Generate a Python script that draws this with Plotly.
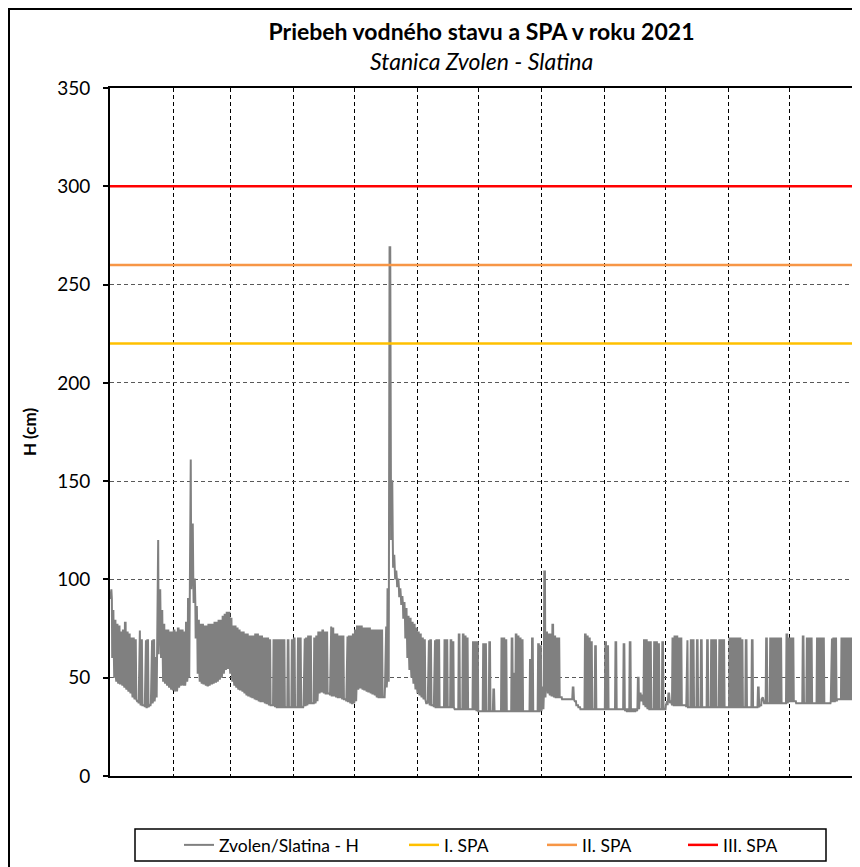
import pandas as pd
import plotly.graph_objects as go

# daily minimum / maximum water level H (cm), station Zvolen - Slatina, 2021
daily_low = [
    # Jan
    90, 60, 50, 48, 47, 47, 46, 45, 44, 43, 42, 40, 39, 38, 37, 36, 36, 35, 35, 36, 37, 38, 40, 62, 75, 60, 48, 47, 46, 45, 44,
    # Feb
    44, 43, 45, 46, 47, 46, 48, 50, 95, 100, 88, 70, 52, 48, 47, 47, 46, 46, 47, 47, 48, 48, 49, 50, 52, 54, 55, 55,
    # Mar
    52, 48, 46, 45, 44, 44, 43, 42, 41, 41, 40, 40, 39, 39, 38, 38, 38, 37, 37, 36, 36, 36, 35, 35, 35, 35, 35, 35, 35, 35, 35,
    # Apr
    35, 35, 35, 35, 35, 36, 36, 37, 37, 37, 37, 38, 42, 43, 43, 42, 42, 42, 41, 41, 41, 40, 40, 40, 39, 39, 38, 38, 37, 37,
    # May
    38, 44, 45, 45, 44, 44, 43, 43, 42, 42, 41, 40, 40, 40, 40, 45, 48, 150, 120, 106, 100, 96, 91, 87, 80, 70, 60, 54, 50, 47, 44,
    # Jun
    42, 41, 40, 39, 38, 37, 36, 36, 35, 35, 35, 35, 35, 35, 35, 35, 35, 35, 34, 34, 34, 34, 34, 34, 34, 34, 34, 34, 34, 33,
    # Jul
    33, 33, 33, 33, 33, 33, 33, 33, 33, 33, 33, 33, 33, 33, 33, 33, 33, 33, 33, 33, 33, 33, 33, 33, 33, 33, 33, 33, 33, 33, 33,
    # Aug
    34, 40, 45, 42, 41, 41, 40, 40, 40, 40, 39, 39, 39, 39, 39, 39, 38, 36, 35, 34, 34, 34, 34, 34, 34, 34, 34, 34, 34, 34, 34,
    # Sep
    34, 34, 34, 34, 34, 34, 34, 34, 34, 34, 33, 33, 33, 33, 33, 33, 34, 38, 38, 36, 35, 34, 34, 34, 34, 34, 34, 34, 34, 34,
    # Oct
    36, 40, 37, 36, 36, 36, 36, 36, 36, 36, 35, 35, 35, 35, 35, 35, 35, 35, 35, 35, 35, 35, 35, 35, 35, 35, 35, 35, 35, 35, 35,
    # Nov
    35, 35, 35, 35, 35, 35, 35, 35, 35, 35, 35, 35, 35, 35, 35, 36, 39, 37, 37, 37, 37, 37, 37, 37, 37, 37, 37, 37, 37, 38,
    # Dec
    38, 38, 38, 37, 37, 37, 37, 37, 37, 37, 37, 37, 37, 37, 37, 37, 37, 37, 37, 37, 38, 38, 38, 39, 39, 39, 39, 39, 39, 39, 39,
]
daily_high = [
    # Jan
    95, 84, 79, 77, 76, 73, 74, 78, 73, 72, 70, 70, 69, 38, 74, 69, 36, 69, 69, 36, 69, 69, 60, 120, 95, 84, 77, 74, 74, 73, 73,
    # Feb
    74, 73, 75, 74, 74, 73, 78, 90, 161, 128, 100, 86, 79, 77, 77, 76, 76, 77, 77, 77, 78, 78, 79, 79, 81, 82, 83, 83,
    # Mar
    80, 76, 76, 75, 74, 73, 73, 72, 72, 71, 71, 71, 72, 72, 71, 71, 70, 70, 70, 69, 36, 69, 69, 69, 69, 69, 69, 35, 69, 35, 69,
    # Apr
    70, 35, 70, 70, 35, 70, 70, 71, 71, 37, 70, 71, 73, 73, 74, 73, 73, 42, 76, 75, 72, 72, 71, 71, 71, 39, 71, 71, 71, 72,
    # May
    74, 76, 76, 76, 75, 75, 75, 75, 74, 74, 74, 74, 74, 74, 40, 76, 95, 269, 150, 112, 104, 100, 95, 91, 88, 85, 81, 80, 78, 77, 75,
    # Jun
    73, 72, 70, 69, 37, 69, 69, 36, 69, 69, 69, 35, 35, 69, 69, 35, 69, 68, 34, 34, 72, 34, 72, 71, 70, 34, 34, 68, 68, 68,
    # Jul
    33, 33, 67, 67, 33, 68, 33, 44, 33, 33, 33, 70, 70, 69, 33, 33, 70, 52, 72, 71, 70, 69, 33, 33, 33, 59, 70, 33, 33, 67, 66,
    # Aug
    45, 104, 73, 72, 72, 77, 71, 70, 70, 40, 39, 39, 39, 39, 39, 45, 38, 36, 35, 34, 34, 72, 71, 70, 68, 34, 66, 34, 34, 34, 34,
    # Sep
    68, 66, 34, 34, 34, 68, 34, 34, 34, 67, 34, 34, 68, 34, 34, 34, 50, 42, 41, 69, 69, 68, 68, 34, 68, 68, 67, 34, 68, 34,
    # Oct
    38, 42, 38, 70, 71, 71, 70, 70, 36, 36, 69, 35, 69, 69, 35, 69, 35, 69, 35, 35, 69, 35, 69, 69, 69, 35, 69, 69, 69, 35, 35,
    # Nov
    70, 70, 70, 70, 70, 70, 69, 35, 69, 35, 35, 69, 35, 35, 45, 36, 40, 37, 70, 37, 70, 70, 70, 70, 70, 70, 37, 37, 72, 70,
    # Dec
    70, 70, 38, 37, 37, 37, 71, 37, 70, 70, 70, 37, 37, 70, 70, 70, 70, 37, 37, 37, 70, 70, 70, 39, 39, 70, 70, 70, 70, 70, 70,
]

spa_names = ["I. SPA", "II. SPA", "III. SPA"]
spa_levels = [220, 260, 300]

days = pd.date_range("2021-01-01", periods=365, freq="D")
month_starts = pd.date_range("2021-02-01", periods=11, freq="MS")

# each day: low at night, high during the day (hydropeaking)
x, y = [], []
for d, lo, hi in zip(days, daily_low, daily_high):
    for h, v in zip([2, 8, 16, 22], [lo, hi, hi, lo]):
        x.append(d + pd.Timedelta(hours=h))
        y.append(v)

FONT = "Lato"
W, H = 852, 859          # page adds 8px body margin
L, R, T, B = 102, 7, 80, 91
PW, PH = W - L - R, H - T - B

def px_x(v):
    return (v - L) / PW

def px_y(v):
    return (H - B - v) / PH

fig = go.Figure()
fig.add_trace(go.Scatter(x=x, y=y, mode="lines", name="Zvolen/Slatina - H", showlegend=True,
                         line=dict(color="#808080", width=2), legend="legend"))

spa_colors = ["#FFC000", "#F79646", "#FF0000"]
for name, lvl, col, lg in zip(spa_names, spa_levels, spa_colors, ["legend2", "legend3", "legend4"]):
    fig.add_trace(go.Scatter(x=[days[0], days[-1] + pd.Timedelta(days=1)], y=[lvl, lvl], showlegend=True,
                             mode="lines", name=name, line=dict(color=col, width=2.5), legend=lg))

leg = dict(orientation="h", y=px_y(837), yanchor="middle", xanchor="left",
           bgcolor="rgba(0,0,0,0)", borderwidth=0, font=dict(family=FONT, size=17.5, color="black"))

fig.update_layout(
    width=W, height=H, showlegend=True,
    margin=dict(l=L, r=R, t=T, b=B, autoexpand=False),
    paper_bgcolor="white", plot_bgcolor="white",
    font=dict(family=FONT, color="black"),
    title=dict(text="<b>Priebeh vodného stavu a SPA v roku 2021</b>", x=0.5, xref="paper", xanchor="center",
               y=1 - 24 / H, yref="container", yanchor="middle", font=dict(size=23, family=FONT)),
    legend=dict(leg, x=px_x(171)),
    legend2=dict(leg, x=px_x(396)),
    legend3=dict(leg, x=px_x(534)),
    legend4=dict(leg, x=px_x(675)),
    xaxis=dict(type="date", range=[days[0], days[-1] + pd.Timedelta(days=1)],
               tickvals=month_starts, showticklabels=False, ticks="",
               showgrid=True, gridcolor="black", griddash="4px,3px", gridwidth=1,
               showline=True, linecolor="black", linewidth=2, mirror=True, zeroline=False),
    yaxis=dict(range=[0, 350], dtick=50, tick0=0, ticks="outside", ticklen=5, tickcolor="black", tickwidth=1.5,
               showgrid=True, gridcolor="#595959", griddash="4px,3px", gridwidth=1,
               showline=True, linecolor="black", linewidth=2, mirror=True, zeroline=False,
               tickfont=dict(size=19, family=FONT), ticklabelstandoff=9,
               title=dict(text="<b>H (cm)</b>", font=dict(size=17, family=FONT), standoff=16),
               automargin=False),
    annotations=[dict(text="<i>Stanica Zvolen - Slatina</i>", x=0.5, xref="paper", y=px_y(53), yref="paper",
                      xanchor="center", yanchor="middle", showarrow=False, font=dict(size=23, family=FONT))],
    shapes=[
        # outer chart frame
        dict(type="rect", xref="paper", yref="paper", x0=px_x(1), x1=px_x(W + 10),
             y0=px_y(H + 10), y1=px_y(1), line=dict(color="black", width=2), layer="below"),
        # legend box
        dict(type="rect", xref="paper", yref="paper", x0=px_x(127), x1=px_x(818),
             y0=px_y(853), y1=px_y(821), line=dict(color="black", width=1.5)),
    ],
)

fig.write_html("out.html")
